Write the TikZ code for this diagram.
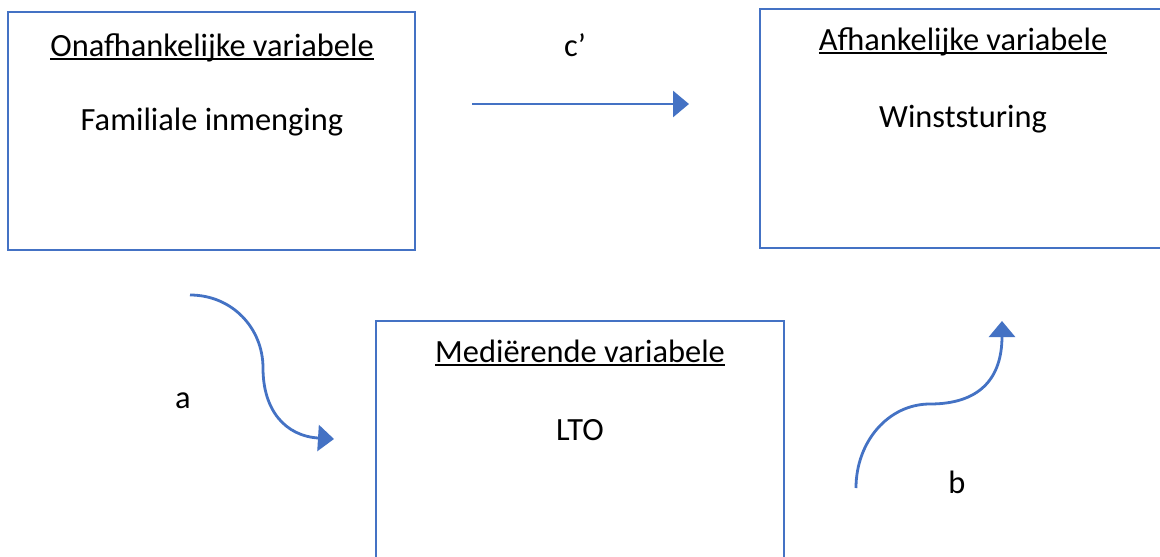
\documentclass[tikz,border=0pt]{standalone}
\usepackage{fontspec}
\setmainfont{Carlito}
\usetikzlibrary{arrows.meta}
\definecolor{offblue}{HTML}{4472C4}
\newcommand\myul[1]{\setbox0\hbox{#1}\rlap{\rule[-4pt]{\wd0}{2.2pt}}\box0}
\tikzset{
  vbox/.style={draw=offblue, line width=2.3pt, fill=none, inner sep=0pt},
  lbl/.style={anchor=base, inner sep=0pt, font=\fontsize{32.4}{38}\selectfont},
  conn/.style={draw=offblue, line width=2.8pt, -{Triangle[length=16pt,width=26pt]}},
}
\begin{document}
\begin{tikzpicture}[x=1pt,y=-1pt]
\clip (0,0) rectangle (1160,557);
\fill[white] (0,0) rectangle (1160,557);
% boxes
\node[vbox, minimum width=407pt, minimum height=238pt] (onaf) at (211.5,131) {};
\node[vbox, minimum width=406pt, minimum height=239pt] (afh) at (963,128.5) {};
\node[vbox, minimum width=408pt, minimum height=240pt] (med) at (580,441) {};
% texts
\node[lbl] (t1) at (212,56) {\myul{Onafhankelijke variabele}};
\node[lbl] (t1b) at (212,130) {Familiale inmenging};
\node[lbl] (t2) at (963,50) {\myul{Afhankelijke variabele}};
\node[lbl] (t2b) at (963,127) {Winststuring};
\node[lbl] (t3) at (580,362) {\myul{Mediërende variabele}};
\node[lbl] (t3b) at (580,440) {LTO};
\node[lbl] (lc) at (575,56) {c’};
\node[lbl] (la) at (183,408) {a};
\node[lbl] (lb) at (957,493) {b};
% connectors
\coordinate (cs) at (472,104);
\coordinate (ce) at (689,104);
\draw[conn] (cs) -- (ce);
\coordinate (as) at (190,295);
\coordinate (am) at (263,368);
\coordinate (ae) at (334,439);
\draw[conn] (as) .. controls (232,295) and (263,328) .. (am)
  .. controls (263,410) and (285,436) .. (ae);
\coordinate (bs) at (856,488);
\coordinate (bm) at (930,404);
\coordinate (be) at (1002,321);
\draw[conn] (bs) .. controls (856,442) and (888,404) .. (bm)
  .. controls (978,404) and (1002,380) .. (be);
\end{tikzpicture}
\end{document}
